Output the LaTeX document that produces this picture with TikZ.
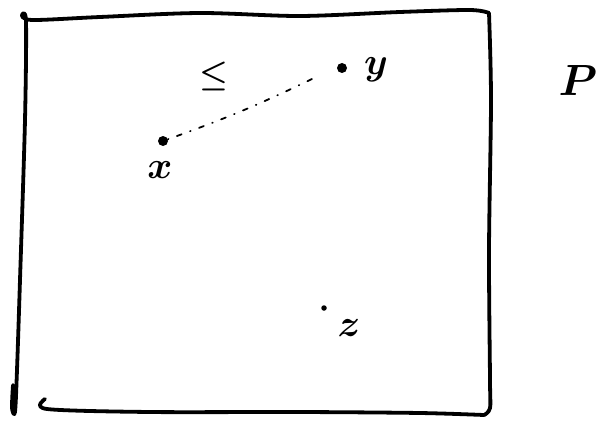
\documentclass[tikz,border=0pt]{standalone}
\usepackage{amssymb}
\usetikzlibrary{calc}
\tikzset{
  rahmen/.style={line width=3.8pt,line cap=round,line join=round},
  punkt/.style={circle,fill,inner sep=0pt,minimum size=10pt},
  kpunkt/.style={circle,fill,inner sep=0pt,minimum size=5.5pt},
  lbl/.style={inner sep=0pt,scale=3.8,font=\boldmath},
  kette/.style={line width=1.8pt,line cap=round,dash pattern=on 0.6pt off 9pt on 5pt off 9pt},
}
\begin{document}
\begin{tikzpicture}[x=1pt,y=-1pt]
  \useasboundingbox (0,0) rectangle (601,425);
  % der Rahmen, von Hand gezogen
  \draw[rahmen] plot[smooth] coordinates {(22,15) (32,20) (100,17) (200,13) (300,16) (400,12) (470,10) (489,13)};
  \draw[rahmen] plot[smooth] coordinates {(489,13) (491,100) (489,250) (490,380) (490,408) (484,415)};
  \draw[rahmen] plot[smooth] coordinates {(45,399) (47,409) (150,412) (300,412) (420,413) (484,415)};
  \draw[rahmen] plot[smooth] coordinates {(22,15) (26,22) (25,120) (20,280) (17,370) (15,412) (12,408) (13,385)};
  % Punkte
  \node[punkt] (x) at (163,141) {};
  \node[punkt] (y) at (342,68) {};
  \node[kpunkt] (z) at (324,308) {};
  \node[lbl] (xl) at (160,170) {$x$};
  \node[lbl] (yl) at (376,70) {$y$};
  \node[lbl] (zl) at (349,328) {$z$};
  \node[lbl,scale=0.85] (le) at (214,76) {$\leq$};
  \node[lbl,scale=1.15] (P) at (578,81) {$P$};
  \coordinate (ye) at (312,79);
  \draw[kette] (x) to[bend right=3] (ye);
\end{tikzpicture}
\end{document}
